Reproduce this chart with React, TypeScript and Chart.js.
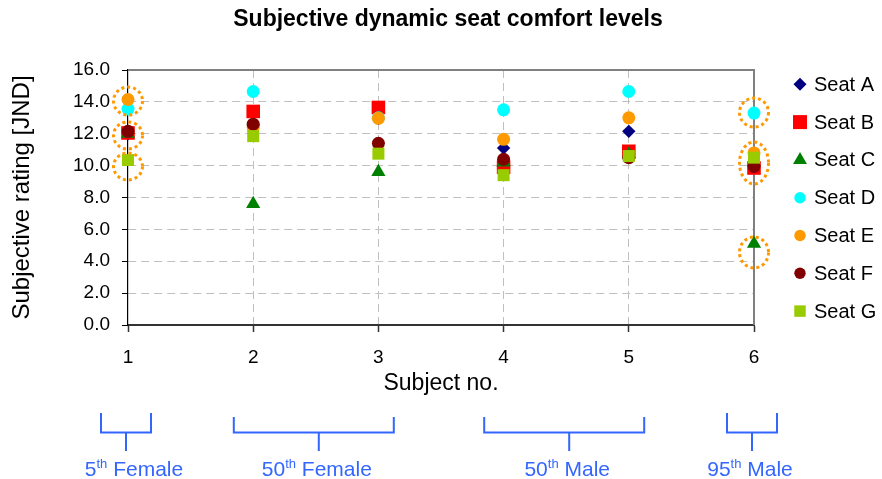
import React, { useEffect, useRef } from 'react';
import { Chart, registerables } from 'chart.js';

Chart.register(...registerables);

const FONT = '"Liberation Sans", Arial, Helvetica, sans-serif';

// ---- data ----
const subjects = [1, 2, 3, 4, 5, 6];
const seatLabels = ['Seat A', 'Seat B', 'Seat C', 'Seat D', 'Seat E', 'Seat F', 'Seat G'];
const seatA = [12.0, 12.55, 12.95, 11.1, 12.15, 10.0];
const seatB = [12.05, 13.4, 13.65, 9.9, 10.9, 9.85];
const seatC = [12.0, 7.6, 9.6, 10.2, 10.7, 5.1];
const seatD = [13.55, 14.65, 13.0, 13.5, 14.65, 13.3];
const seatE = [14.15, 12.4, 12.97, 11.65, 13.0, 10.8];
const seatF = [12.15, 12.6, 11.4, 10.4, 10.5, 9.95];
const seatG = [10.35, 11.85, 10.75, 9.4, 10.6, 10.5];
const yTickValues = [0, 2, 4, 6, 8, 10, 12, 14, 16];

// highlighted (circled) value ranges
const highlightSubject = [1, 1, 1, 6, 6, 6];
const highlightLow = [13.17, 11.04, 9.1, 12.42, 8.85, 3.58];
const highlightHigh = [14.93, 12.74, 10.79, 14.24, 11.48, 5.52];

// subject groups under the axis
const groupPercentile = ['5', '50', '50', '95'];
const groupName = ['Female', 'Female', 'Male', 'Male'];
const groupFirst = [1, 2, 4, 6];
const groupLast = [1, 3, 5, 6];

// ---- styles ----
const seatValues = [seatA, seatB, seatC, seatD, seatE, seatF, seatG];
const seatColors = ['#000080', '#FF0000', '#008000', '#00FFFF', '#FF9900', '#800000', '#99CC00'];
const seatStyles = ['rectRot', 'rect', 'triangle', 'circle', 'circle', 'circle', 'rect'];
const seatRadius = [6.7, 9.6, 8.2, 6.5, 6.5, 6.5, 8.5];
const legendRadius = [6.5, 9.9, 8.0, 5.7, 5.7, 5.7, 8.1];

function drawMarker(ctx: CanvasRenderingContext2D, style: string, x: number, y: number, r: number, color: string) {
  ctx.save();
  ctx.fillStyle = color;
  ctx.beginPath();
  if (style === 'circle') {
    ctx.arc(x, y, r, 0, Math.PI * 2);
  } else if (style === 'rect') {
    const s = Math.SQRT1_2 * r;
    ctx.rect(x - s, y - s, 2 * s, 2 * s);
  } else if (style === 'rectRot') {
    ctx.moveTo(x - r, y);
    ctx.lineTo(x, y - r);
    ctx.lineTo(x + r, y);
    ctx.lineTo(x, y + r);
    ctx.closePath();
  } else if (style === 'triangle') {
    let a = 0;
    ctx.moveTo(x + Math.sin(a) * r, y - Math.cos(a) * r);
    a += (2 * Math.PI) / 3;
    ctx.lineTo(x + Math.sin(a) * r, y - Math.cos(a) * r);
    a += (2 * Math.PI) / 3;
    ctx.lineTo(x + Math.sin(a) * r, y - Math.cos(a) * r);
    ctx.closePath();
  }
  ctx.fill();
  ctx.restore();
}

const plotFramePlugin = {
  id: 'plotFrame',
  beforeDatasetsDraw(chart: any) {
    const { ctx, chartArea } = chart;
    ctx.save();
    ctx.strokeStyle = '#808080';
    ctx.lineWidth = 2;
    ctx.beginPath();
    ctx.moveTo(chartArea.left, chartArea.top);
    ctx.lineTo(chartArea.right, chartArea.top);
    ctx.lineTo(chartArea.right, chartArea.bottom);
    ctx.stroke();
    ctx.restore();
  },
};

const highlightPlugin = {
  id: 'highlights',
  afterDatasetsDraw(chart: any) {
    const { ctx } = chart;
    const xs = chart.scales.x;
    const ys = chart.scales.y;
    ctx.save();
    ctx.strokeStyle = '#FF9900';
    ctx.lineWidth = 3;
    ctx.setLineDash([3, 3]);
    for (let i = 0; i < highlightSubject.length; i++) {
      const cx = xs.getPixelForValue(highlightSubject[i]);
      const top = ys.getPixelForValue(highlightHigh[i]);
      const bottom = ys.getPixelForValue(highlightLow[i]);
      ctx.beginPath();
      ctx.ellipse(cx, (top + bottom) / 2, 14.5, (bottom - top) / 2, 0, 0, Math.PI * 2);
      ctx.stroke();
    }
    ctx.restore();
  },
};

const legendPlugin = {
  id: 'seatLegend',
  afterDraw(chart: any) {
    const { ctx, chartArea } = chart;
    const mx = chartArea.right + 46;
    const tx = chartArea.right + 60;
    const y0 = chartArea.top + 14.3;
    const step = 37.8;
    ctx.save();
    ctx.font = `20px ${FONT}`;
    ctx.fillStyle = '#000';
    ctx.textBaseline = 'middle';
    ctx.textAlign = 'left';
    chart.data.datasets.forEach((ds: any, i: number) => {
      const y = y0 + i * step;
      drawMarker(ctx, seatStyles[i], mx, y, legendRadius[i], seatColors[i]);
      ctx.fillText(ds.label, tx, y + 1);
    });
    ctx.restore();
  },
};

const groupPlugin = {
  id: 'subjectGroups',
  afterDraw(chart: any) {
    const { ctx, chartArea } = chart;
    const xs = chart.scales.x;
    const b = chartArea.bottom;
    ctx.save();
    ctx.strokeStyle = '#3366FF';
    ctx.fillStyle = '#3366FF';
    ctx.lineWidth = 2;
    for (let i = 0; i < groupName.length; i++) {
      const single = groupFirst[i] === groupLast[i];
      const mid = (xs.getPixelForValue(groupFirst[i]) + xs.getPixelForValue(groupLast[i])) / 2 - 2;
      const half = single ? 25 : 80;
      const stem = single ? mid : mid + 5;
      const topY = b + (single ? 88 : 92);
      const barY = b + 107.5;
      ctx.beginPath();
      ctx.moveTo(mid - half, topY);
      ctx.lineTo(mid - half, barY);
      ctx.lineTo(mid + half, barY);
      ctx.lineTo(mid + half, topY);
      ctx.moveTo(stem, barY);
      ctx.lineTo(stem, b + 126);
      ctx.stroke();

      const big = `21px ${FONT}`;
      const small = `13px ${FONT}`;
      ctx.font = big;
      const w1 = ctx.measureText(groupPercentile[i]).width;
      const w3 = ctx.measureText(' ' + groupName[i]).width;
      ctx.font = small;
      const w2 = ctx.measureText('th').width;
      const total = w1 + w2 + w3;
      const center = single && i === 0 ? stem + 8 : stem - 2;
      let x = center - total / 2;
      const baseY = b + 150.5;
      ctx.textBaseline = 'alphabetic';
      ctx.textAlign = 'left';
      ctx.font = big;
      ctx.fillText(groupPercentile[i], x, baseY);
      x += w1;
      ctx.font = small;
      ctx.fillText('th', x, baseY - 8);
      x += w2;
      ctx.font = big;
      ctx.fillText(' ' + groupName[i], x, baseY);
    }
    ctx.restore();
  },
};

export default function App() {
  const canvasRef = useRef<HTMLCanvasElement | null>(null);

  useEffect(() => {
    if (!canvasRef.current) return;
    Chart.defaults.font.family = FONT;
    const edgeX = (v: number) => v === subjects[0] || v === subjects[subjects.length - 1];
    const edgeY = (v: number) => v === yTickValues[0] || v === yTickValues[yTickValues.length - 1];

    const chart = new Chart(canvasRef.current, {
      type: 'scatter',
      data: {
        datasets: seatLabels.map((label, i) => ({
          label,
          data: subjects.map((s, j) => ({ x: s, y: seatValues[i][j] })),
          pointStyle: seatStyles[i] as any,
          pointRadius: seatRadius[i],
          pointHoverRadius: seatRadius[i],
          backgroundColor: seatColors[i],
          borderColor: seatColors[i],
          pointBorderWidth: 0,
          borderWidth: 0,
          showLine: false,
          clip: false as any,
          order: seatLabels.length - 1 - i,
        })),
      },
      options: {
        animation: false,
        responsive: false,
        events: [],
        layout: { padding: { left: 14, right: 0, top: 0, bottom: 0 } },
        plugins: {
          legend: { display: false },
          tooltip: { enabled: false },
          title: {
            display: true,
            text: 'Subjective dynamic seat comfort levels',
            color: '#000',
            font: { size: 23, weight: 'bold', family: FONT },
            padding: { top: 6, bottom: 36.4 },
          },
        },
        scales: {
          x: {
            type: 'linear',
            min: subjects[0],
            max: subjects[subjects.length - 1],
            afterBuildTicks: (s: any) => {
              s.ticks = subjects.map((v) => ({ value: v }));
            },
            afterFit: (s: any) => {
              s.height = 154;
            },
            ticks: {
              color: '#000',
              font: { size: 19, family: FONT },
              padding: 14,
              callback: (v: any) => String(v),
            },
            grid: {
              color: (c: any) => (c.tick && edgeX(c.tick.value) ? 'rgba(0,0,0,0)' : '#c0c0c0'),
              lineWidth: 1,
              tickColor: '#333',
              tickLength: 7,
              tickWidth: 1.5,
            },
            border: { color: '#333', width: 2, dash: [8, 5] },
            title: {
              display: true,
              text: 'Subject no.',
              color: '#000',
              font: { size: 23, family: FONT },
              padding: { top: 0, bottom: 82 },
            },
          },
          y: {
            type: 'linear',
            min: yTickValues[0],
            max: yTickValues[yTickValues.length - 1],
            afterBuildTicks: (s: any) => {
              s.ticks = yTickValues.map((v) => ({ value: v }));
            },
            afterFit: (s: any) => {
              s.width = 114;
            },
            ticks: {
              color: '#000',
              font: { size: 19, family: FONT },
              padding: 12,
              callback: (v: any) => Number(v).toFixed(1),
            },
            grid: {
              color: (c: any) => (c.tick && edgeY(c.tick.value) ? 'rgba(0,0,0,0)' : '#c0c0c0'),
              lineWidth: 1,
              tickColor: '#000',
              tickLength: 6,
              tickWidth: 1,
            },
            border: { color: '#000', width: 1.2, dash: [8, 5] },
            title: {
              display: true,
              text: 'Subjective rating [JND]',
              color: '#000',
              font: { size: 24, family: FONT },
              padding: { top: -6.4, bottom: 0 },
            },
          },
          yRight: {
            type: 'linear',
            position: 'right',
            display: true,
            grid: { display: false, drawTicks: false },
            ticks: { display: false },
            border: { display: false },
            afterFit: (s: any) => {
              s.width = 128;
            },
          },
        },
      } as any,
      plugins: [plotFramePlugin, highlightPlugin, legendPlugin, groupPlugin],
    });
    return () => chart.destroy();
  }, []);

  return (
    <div style={{ position: 'fixed', left: 0, top: 0, width: 882, height: 479, background: '#fff' }}>
      <canvas ref={canvasRef} width={882} height={479} style={{ display: 'block', width: 882, height: 479 }} />
    </div>
  );
}
